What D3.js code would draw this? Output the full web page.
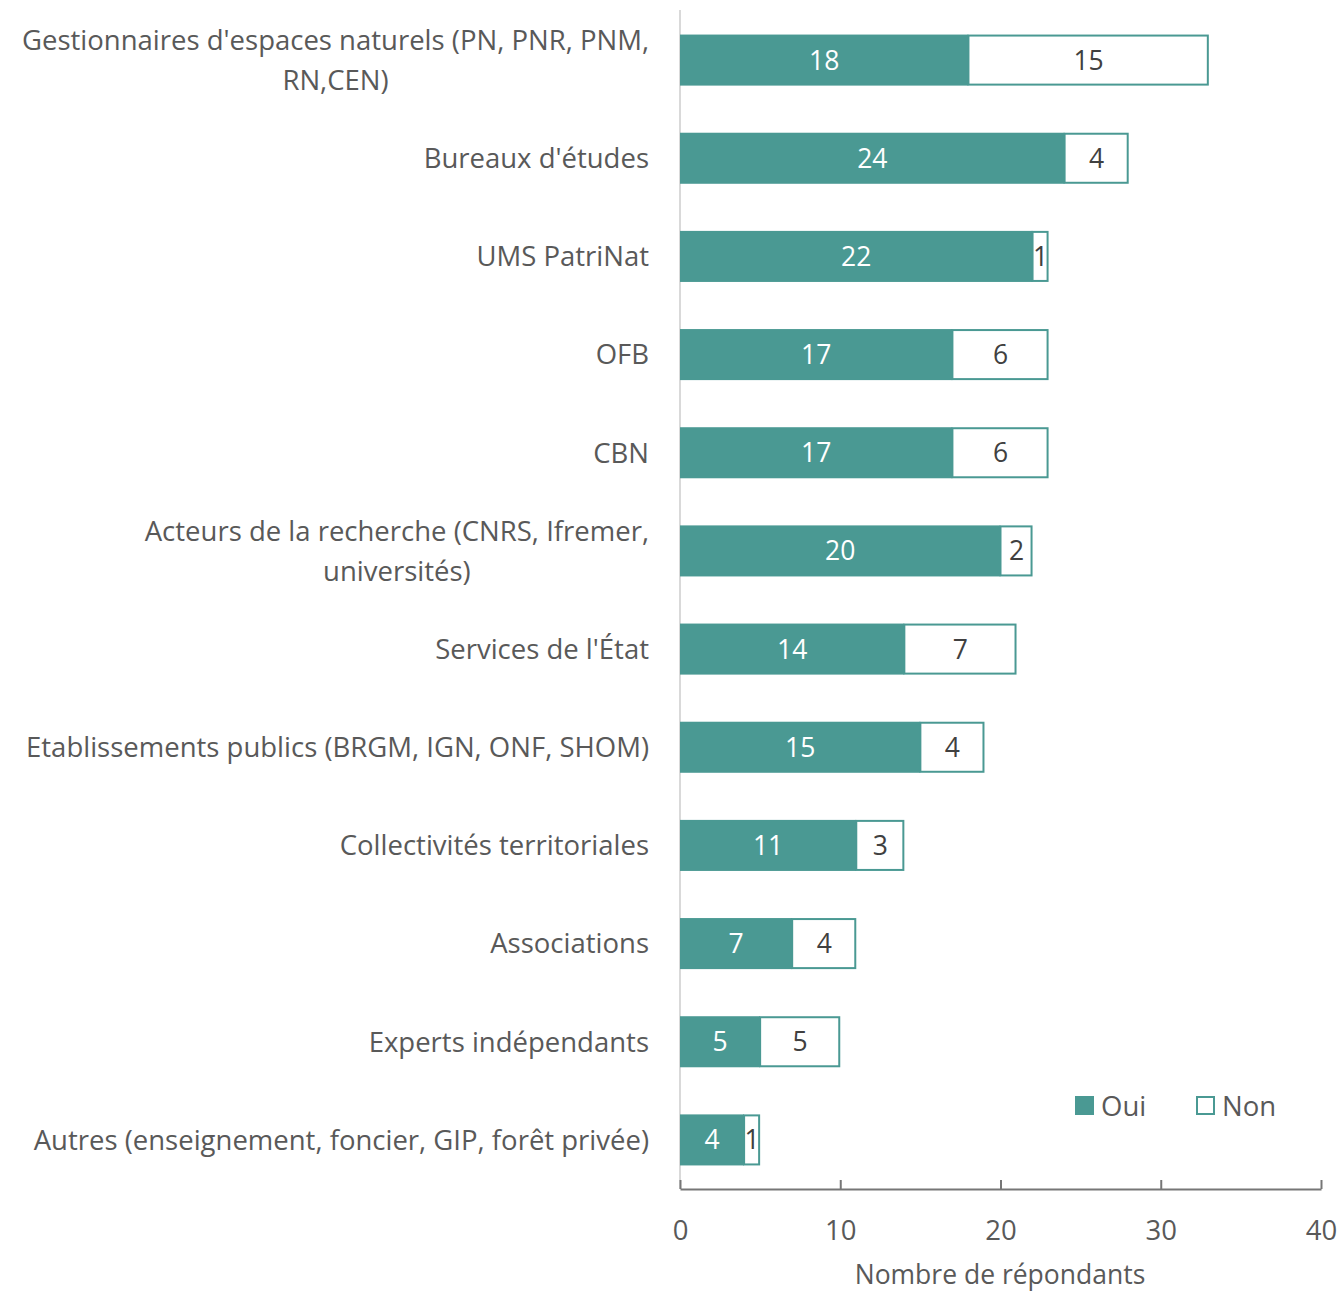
<!DOCTYPE html>
<html><head><meta charset="utf-8">
<script src="https://cdn.jsdelivr.net/npm/d3@7"></script>
<style>body{margin:0;background:#fff}</style>
</head><body>
<svg id="c" width="1343" height="1294"></svg>
<script>
const categories = [
  ["Gestionnaires d'espaces naturels (PN, PNR, PNM,", "RN,CEN)"],
  ["Bureaux d'études"],
  ["UMS PatriNat"],
  ["OFB"],
  ["CBN"],
  ["Acteurs de la recherche (CNRS, Ifremer,", "universités)"],
  ["Services de l'État"],
  ["Etablissements publics (BRGM, IGN, ONF, SHOM)"],
  ["Collectivités territoriales"],
  ["Associations"],
  ["Experts indépendants"],
  ["Autres (enseignement, foncier, GIP, forêt privée)"]
];
const oui = [18, 24, 22, 17, 17, 20, 14, 15, 11, 7, 5, 4];
const non = [15, 4, 1, 6, 6, 2, 7, 4, 3, 4, 5, 1];
const xTicks = [0, 10, 20, 30, 40];
const seriesNames = ["Oui", "Non"];

const teal = "#4A9993", grey = "#595959";
const font = "'Open Sans', sans-serif";
const svg = d3.select("#c");

const fs = 27.5;
const fsVal = 26.5;

const x = d3.scaleLinear().domain([0, 40]).range([680, 1321]);
const y = d3.scaleBand().domain(d3.range(categories.length)).range([11, 1189]).paddingInner(0.48).paddingOuter(0.24);

svg.append("line").attr("x1", 680).attr("x2", 680).attr("y1", 10).attr("y2", 1189)
  .attr("stroke", "#d9d9d9").attr("stroke-width", 2);

const g = svg.append("g");
categories.forEach((c, i) => {
  const yy = y(i), h = y.bandwidth();
  g.append("rect").attr("x", x(0)).attr("y", yy).attr("width", x(oui[i]) - x(0)).attr("height", h).attr("fill", teal);
  g.append("rect").attr("x", x(oui[i])).attr("y", yy + 1).attr("width", x(oui[i] + non[i]) - x(oui[i]) - 1).attr("height", h - 2)
    .attr("fill", "#fff").attr("stroke", teal).attr("stroke-width", 2);
  const cy = yy + h / 2;
  g.append("text").attr("x", (x(0) + x(oui[i])) / 2).attr("y", cy).attr("dy", "0.36em").attr("text-anchor", "middle")
    .attr("fill", "#fff").attr("font-family", font).attr("font-size", fsVal).text(oui[i]);
  g.append("text").attr("x", (x(oui[i]) + x(oui[i] + non[i])) / 2).attr("y", cy).attr("dy", "0.36em").attr("text-anchor", "middle")
    .attr("fill", "#404040").attr("font-family", font).attr("font-size", fsVal).text(non[i]);

  const t = g.append("text").attr("fill", grey).attr("font-family", font).attr("font-size", fs);
  const n = c.length;
  if (n === 1) {
    t.attr("text-anchor", "end").attr("x", 649).attr("y", cy).attr("dy", "0.36em").text(c[0]);
  } else {
    const first = t.append("tspan").text(c[0]);
    const w = first.node().getComputedTextLength();
    t.attr("text-anchor", "middle");
    c.forEach((line, k) => {
      const sp = k === 0 ? first : t.append("tspan").text(line);
      sp.attr("x", 649 - w / 2).attr("y", cy + (k - (n - 1) / 2) * 40).attr("dy", "0.36em");
    });
  }
});

const ax = svg.append("g").attr("transform", "translate(0,1189)")
  .call(d3.axisBottom(x).tickValues(xTicks).tickSize(-9).tickSizeOuter(0));
ax.select(".domain").attr("stroke", "#767676").attr("stroke-width", 2);
ax.selectAll(".tick line").attr("stroke", "#767676").attr("stroke-width", 2);
ax.selectAll(".tick text").attr("fill", grey).attr("font-family", font).attr("font-size", fs).attr("dy", "0.36em").attr("y", 41);
svg.append("text").attr("x", 1000).attr("y", 1274).attr("dy", "0.36em").attr("text-anchor", "middle")
  .attr("fill", grey).attr("font-family", font).attr("font-size", 26.5).text("Nombre de répondants");

const leg = [{ x: 1075, fill: teal, stroke: teal }, { x: 1196, fill: "#fff", stroke: teal }];
seriesNames.forEach((s, i) => {
  svg.append("rect").attr("x", leg[i].x + 1).attr("y", 1097).attr("width", 17).attr("height", 17)
    .attr("fill", leg[i].fill).attr("stroke", leg[i].stroke).attr("stroke-width", 2);
  svg.append("text").attr("x", leg[i].x + 26).attr("y", 1106).attr("dy", "0.36em")
    .attr("fill", grey).attr("font-family", font).attr("font-size", fs).text(s);
});
</script>
</body></html>
